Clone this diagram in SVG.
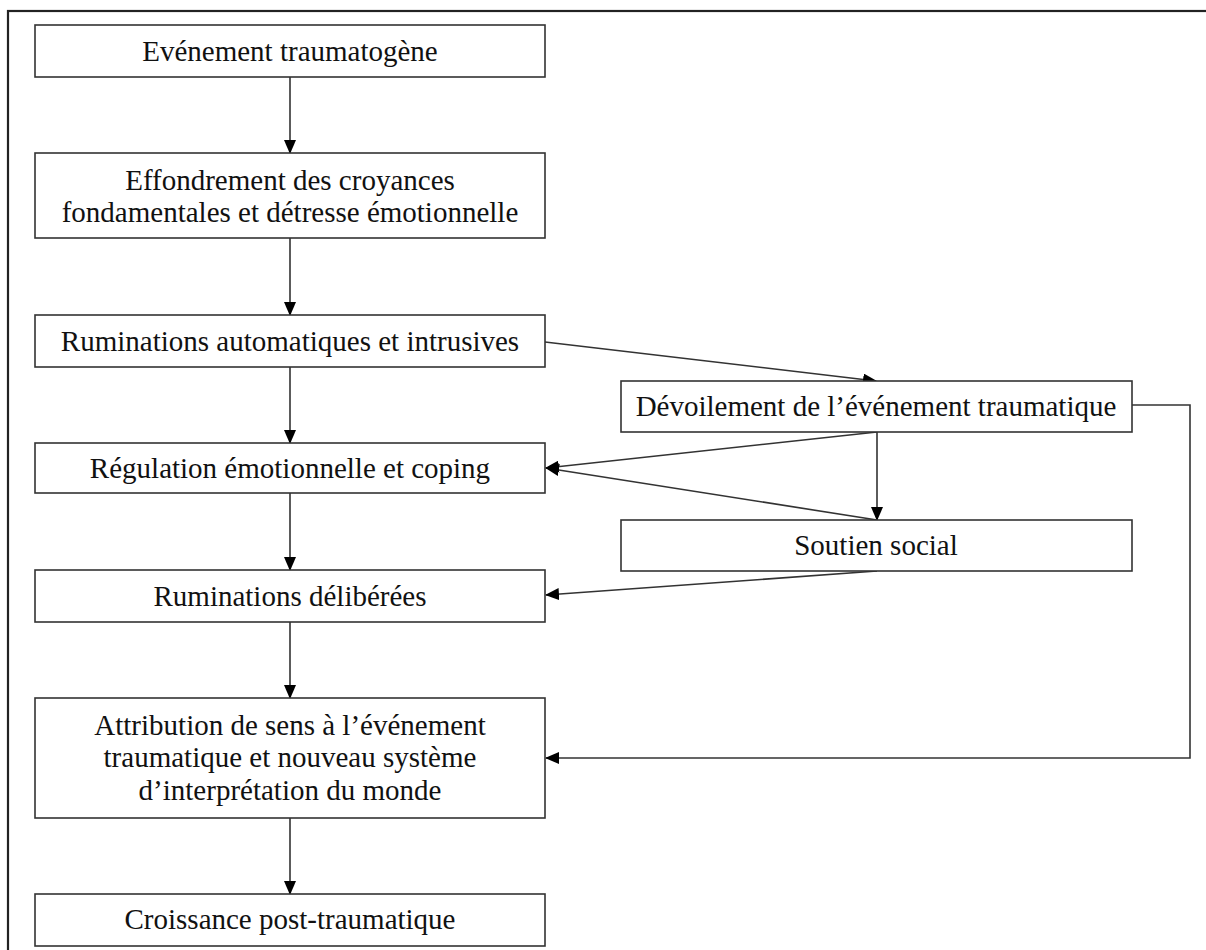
<svg xmlns="http://www.w3.org/2000/svg" width="1206" height="950" viewBox="0 0 1206 950">
<style>
.box{fill:#fff;stroke:#333;stroke-width:1.6}
.t{font-family:"Liberation Serif","Times New Roman",serif;font-size:29px;fill:#111;text-anchor:middle}
.c{fill:none;stroke:#333;stroke-width:1.6}
</style>
<defs>
<marker id="ah" markerWidth="14" markerHeight="12" refX="13" refY="6" orient="auto" markerUnits="userSpaceOnUse">
<path d="M0,0 L14,6 L0,12 Z" fill="#000"/>
</marker>
</defs>
<rect x="8" y="11" width="1220" height="960" fill="none" stroke="#222" stroke-width="2.2"/>
<g id="connectors">
<line class="c" x1="290" y1="77" x2="290" y2="153" marker-end="url(#ah)"/>
<line class="c" x1="290" y1="238" x2="290" y2="315" marker-end="url(#ah)"/>
<line class="c" x1="290" y1="367" x2="290" y2="443" marker-end="url(#ah)"/>
<line class="c" x1="290" y1="493" x2="290" y2="570" marker-end="url(#ah)"/>
<line class="c" x1="290" y1="622" x2="290" y2="698" marker-end="url(#ah)"/>
<line class="c" x1="290" y1="818" x2="290" y2="894" marker-end="url(#ah)"/>
<line class="c" x1="545" y1="342" x2="876" y2="381" marker-end="url(#ah)"/>
<line class="c" x1="877" y1="432" x2="877" y2="520" marker-end="url(#ah)"/>
<line class="c" x1="877" y1="432" x2="546" y2="468" marker-end="url(#ah)"/>
<line class="c" x1="877" y1="520" x2="546" y2="468" marker-end="url(#ah)"/>
<line class="c" x1="877" y1="571" x2="546" y2="595" marker-end="url(#ah)"/>
<polyline class="c" points="1132,405 1190,405 1190,758 546,758" marker-end="url(#ah)"/>
</g>
<g id="n1"><rect class="box" x="35" y="25" width="510" height="52"/><text class="t" x="290" y="61">Evénement traumatogène</text></g>
<g id="n2"><rect class="box" x="35" y="153" width="510" height="85"/><text class="t" x="290" y="190">Effondrement des croyances</text><text class="t" x="290" y="222">fondamentales et détresse émotionnelle</text></g>
<g id="n3"><rect class="box" x="35" y="315" width="510" height="52"/><text class="t" x="290" y="351">Ruminations automatiques et intrusives</text></g>
<g id="n4"><rect class="box" x="35" y="443" width="510" height="50"/><text class="t" x="290" y="478">Régulation émotionnelle et coping</text></g>
<g id="n5"><rect class="box" x="35" y="570" width="510" height="52"/><text class="t" x="290" y="606">Ruminations délibérées</text></g>
<g id="n6"><rect class="box" x="35" y="698" width="510" height="120"/><text class="t" x="290" y="735">Attribution de sens à l’événement</text><text class="t" x="290" y="767">traumatique et nouveau système</text><text class="t" x="290" y="800">d’interprétation du monde</text></g>
<g id="n7"><rect class="box" x="35" y="894" width="510" height="52"/><text class="t" x="290" y="929">Croissance post-traumatique</text></g>
<g id="nD"><rect class="box" x="621" y="381" width="511" height="51"/><text class="t" x="876" y="416">Dévoilement de l’événement traumatique</text></g>
<g id="nS"><rect class="box" x="621" y="520" width="511" height="51"/><text class="t" x="876" y="555">Soutien social</text></g>
</svg>
